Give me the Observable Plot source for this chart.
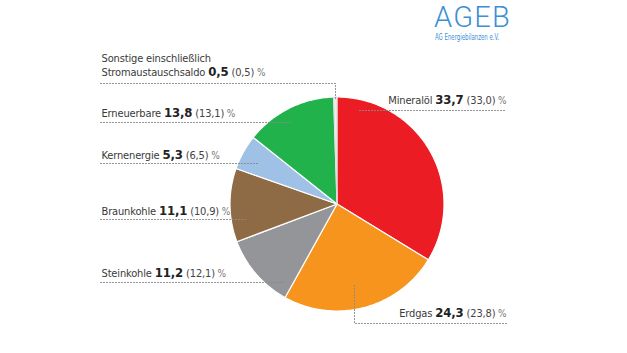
<!DOCTYPE html>
<html><head><meta charset="utf-8">
<script src="https://cdn.jsdelivr.net/npm/d3@7"></script>
<script src="https://cdn.jsdelivr.net/npm/@observablehq/plot@0.6"></script>
<style>
body{margin:0;background:#fff;}
#wrap{position:relative;width:627px;height:353px;overflow:hidden;}
#logo{position:absolute;left:434px;top:0px;color:#3d8fd4;font-family:Roboto,"Liberation Sans",sans-serif;}
#logo .big{font-size:29px;font-weight:300;letter-spacing:1.2px;line-height:29px;margin-top:3px;}
#logo .small{font-family:"DejaVu Sans Condensed",sans-serif;font-size:8px;margin-top:1px;margin-left:1px;white-space:nowrap;transform:scaleX(0.75);transform-origin:0 0;}
</style></head>
<body><div id="wrap"><div id="logo"><div class="big">AGEB</div><div class="small">AG Energiebilanzen e.V.</div></div></div>
<script>
// ---- data ----
const categories = ["Mineralöl", "Erdgas", "Steinkohle", "Braunkohle", "Kernenergie", "Erneuerbare", "Stromaustauschsaldo"];
const shares = [33.7, 24.3, 11.2, 11.1, 5.3, 13.8, 0.5];
const sharesPrev = [33.0, 23.8, 12.1, 10.9, 6.5, 13.1, 0.5];
const sliceColors = ["#ec1c24", "#f7941d", "#939598", "#8e6b45", "#9fc1e6", "#22b24c", "#eeeeee"];
const fmt = v => v.toFixed(1).replace(".", ",");

// ---- layout ----
const W = 627, H = 353;
const cx = 336.5, cy = 203.5, R = 107;
const FONT = '"Liberation Sans Narrow","DejaVu Sans Condensed",sans-serif';
const labelLayout = [
  {x: 506, y: 103, anchor: "end", leader: [[359, 110], [506, 110]]},
  {x: 506, y: 316, anchor: "end", leader: [[354, 285], [354, 323], [506, 323]]},
  {x: 101, y: 276, anchor: "start", leader: [[100, 282], [285, 282]]},
  {x: 101, y: 214, anchor: "start", leader: [[100, 219], [247, 219]]},
  {x: 101, y: 158, anchor: "start", leader: [[100, 163], [257, 163]]},
  {x: 101, y: 116, anchor: "start", leader: [[100, 122], [292, 122]]},
  {x: 101, y: 75, anchor: "start", leader: [[100, 83], [335, 83], [335, 99]]}
];
const extraLines = [{x: 101, y: 61, text: "Sonstige einschließlich"}];

// ---- pie geometry from data ----
const arcs = d3.pie().sort(null).value(d => d)(shares);
const slices = arcs.map((a, i) => {
  const pts = [{x: cx, y: cy}];
  const steps = Math.max(2, Math.ceil((a.endAngle - a.startAngle) / (Math.PI / 180)));
  for (let k = 0; k <= steps; k++) {
    const t = a.startAngle + (a.endAngle - a.startAngle) * k / steps;
    pts.push({x: cx + R * Math.sin(t), y: cy - R * Math.cos(t)});
  }
  pts.push({x: cx, y: cy});
  return {pts, color: sliceColors[i], i};
});

const labels = categories.map((c, i) => ({
  x: labelLayout[i].x, y: labelLayout[i].y, anchor: labelLayout[i].anchor,
  text: `${c}|${fmt(shares[i])}|(${fmt(sharesPrev[i])})|%`
}));

const marks = [];
slices.forEach(s => {
  marks.push(Plot.line(s.pts, {x: "x", y: "y", fill: s.color,
    stroke: s.i === 6 ? "#d0d0d0" : "#ffffff", strokeWidth: s.i === 6 ? 0.6 : 1.2, curve: "linear-closed"}));
});
labelLayout.forEach(l => {
  marks.push(Plot.line(l.leader.map(([x, y]) => ({x, y})), {x: "x", y: "y",
    stroke: "#8a8a8a", strokeWidth: 1, strokeDasharray: "1,2"}));
});
["start", "end"].forEach(anchor => {
  marks.push(Plot.text(labels.filter(d => d.anchor === anchor), {x: "x", y: "y", text: "text",
    textAnchor: anchor, lineAnchor: "bottom", fontSize: 11, fontFamily: FONT, fill: "#3a3a3a"}));
});
marks.push(Plot.text(extraLines, {x: "x", y: "y", text: "text", textAnchor: "start",
  lineAnchor: "bottom", fontSize: 11, fontFamily: FONT, fill: "#3a3a3a"}));

const svg = Plot.plot({
  width: W, height: H, margin: 0,
  x: {domain: [0, W], range: [0, W], axis: null},
  y: {domain: [0, H], range: [0, H], axis: null},
  style: {background: "transparent", overflow: "visible"},
  marks
});

// rich text: name, bold value, previous value, percent sign
d3.select(svg).selectAll("text").each(function() {
  const t = this.textContent;
  if (!t.includes("|")) return;
  const [name, val, prev, pct] = t.split("|");
  const sel = d3.select(this);
  sel.text(null);
  sel.append("tspan").text(name + " ");
  sel.append("tspan").attr("font-weight", "bold").attr("font-size", 13).attr("fill", "#222").text(val);
  sel.append("tspan").attr("fill", "#444").text(" " + prev);
  sel.append("tspan").attr("fill", "#777").attr("font-size", 10).text(" " + pct);
});
d3.select(svg).selectAll("text").attr("letter-spacing", "-0.15");

document.getElementById("wrap").appendChild(svg);
svg.style.position = "absolute";
svg.style.left = "0";
svg.style.top = "0";
</script>
</body></html>
